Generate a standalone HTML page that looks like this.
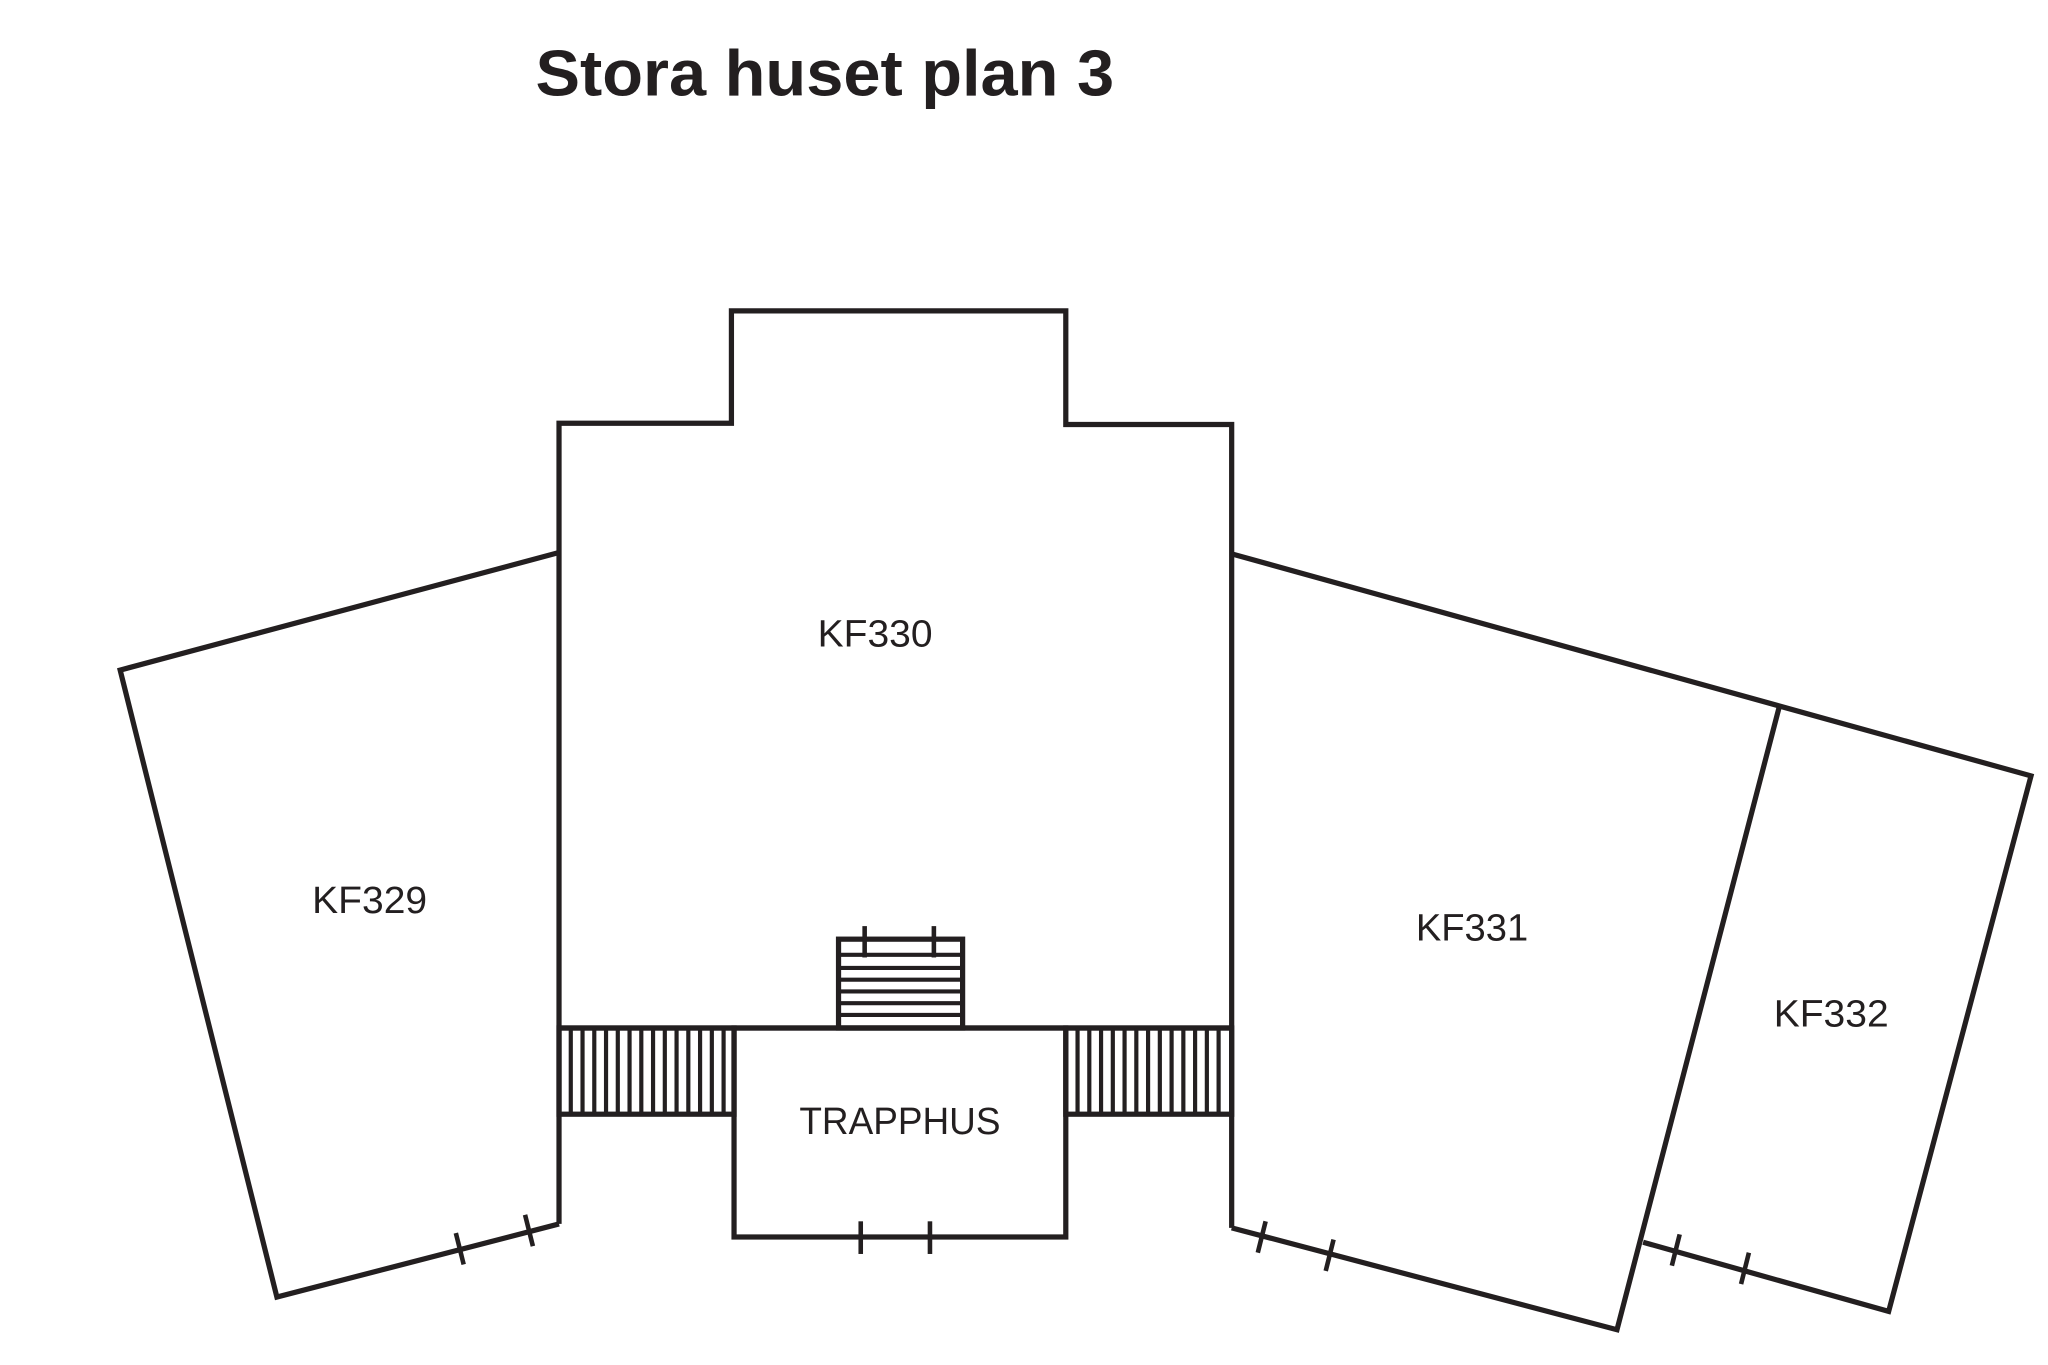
<!DOCTYPE html>
<html><head><meta charset="utf-8"><style>html,body{margin:0;padding:0;background:#fff}svg{display:block}</style></head>
<body>
<svg width="2048" height="1365" viewBox="0 0 1568 1045" preserveAspectRatio="none" xmlns="http://www.w3.org/2000/svg">
<rect width="1568" height="1045" fill="#fff"/>
<text x="410" y="73" font-family="Liberation Sans, sans-serif" font-weight="bold" font-size="50" textLength="443" lengthAdjust="spacingAndGlyphs" fill="#231f20">Stora huset plan 3</text>
<g fill="none" stroke="#231f20" stroke-width="4" stroke-linejoin="miter">
<polyline points="428,937 428,324 560,324 560,238 816,238 816,325 943,325 943,940"/>
<line x1="428" y1="787" x2="943" y2="787"/>
<polyline points="428,423 92,513 212,993 428,937"/>
<polyline points="943,424 1555,594 1446,1004 1258,951"/>
<polyline points="943,940 1238,1018 1362,542"/>
<rect x="562" y="787" width="254" height="160"/>
<rect x="428" y="787" width="134" height="66"/>
<rect x="816" y="787" width="127" height="66"/>
<rect x="642" y="719" width="95" height="68"/>
</g>
<g stroke="#231f20" stroke-width="3.2">
<line x1="437" y1="787" x2="437" y2="853"/><line x1="446" y1="787" x2="446" y2="853"/><line x1="455" y1="787" x2="455" y2="853"/><line x1="464" y1="787" x2="464" y2="853"/><line x1="473" y1="787" x2="473" y2="853"/><line x1="482" y1="787" x2="482" y2="853"/><line x1="491" y1="787" x2="491" y2="853"/><line x1="500" y1="787" x2="500" y2="853"/><line x1="509" y1="787" x2="509" y2="853"/><line x1="518" y1="787" x2="518" y2="853"/><line x1="527" y1="787" x2="527" y2="853"/><line x1="536" y1="787" x2="536" y2="853"/><line x1="545" y1="787" x2="545" y2="853"/><line x1="554" y1="787" x2="554" y2="853"/>
<line x1="825" y1="787" x2="825" y2="853"/><line x1="834" y1="787" x2="834" y2="853"/><line x1="843" y1="787" x2="843" y2="853"/><line x1="852" y1="787" x2="852" y2="853"/><line x1="861" y1="787" x2="861" y2="853"/><line x1="870" y1="787" x2="870" y2="853"/><line x1="879" y1="787" x2="879" y2="853"/><line x1="888" y1="787" x2="888" y2="853"/><line x1="897" y1="787" x2="897" y2="853"/><line x1="906" y1="787" x2="906" y2="853"/><line x1="915" y1="787" x2="915" y2="853"/><line x1="924" y1="787" x2="924" y2="853"/><line x1="933" y1="787" x2="933" y2="853"/>
<line x1="642" y1="731" x2="737" y2="731"/><line x1="642" y1="741" x2="737" y2="741"/><line x1="642" y1="750" x2="737" y2="750"/><line x1="642" y1="759" x2="737" y2="759"/><line x1="642" y1="768" x2="737" y2="768"/><line x1="642" y1="777" x2="737" y2="777"/>
</g>
<g stroke="#231f20" stroke-width="3.5">
<line x1="662" y1="709" x2="662" y2="733"/><line x1="715" y1="709" x2="715" y2="733"/>
<line x1="659" y1="935" x2="659" y2="960"/><line x1="712" y1="935" x2="712" y2="960"/>
<line x1="349" y1="944" x2="355" y2="968"/><line x1="402" y1="930" x2="408" y2="954"/>
<line x1="969" y1="935" x2="963" y2="959"/><line x1="1021" y1="949" x2="1015" y2="973"/>
<line x1="1286" y1="945" x2="1280" y2="969"/><line x1="1339" y1="959" x2="1333" y2="983"/>
</g>
<g font-family="Liberation Sans, sans-serif" font-size="29" fill="#231f20" text-anchor="middle">
<text x="670" y="495" textLength="88" lengthAdjust="spacingAndGlyphs">KF330</text>
<text x="283" y="699" textLength="88" lengthAdjust="spacingAndGlyphs">KF329</text>
<text x="1127" y="720" textLength="86" lengthAdjust="spacingAndGlyphs">KF331</text>
<text x="1402" y="786" textLength="88" lengthAdjust="spacingAndGlyphs">KF332</text>
<text x="689" y="868" textLength="154" lengthAdjust="spacingAndGlyphs">TRAPPHUS</text>
</g>
</svg>
</body></html>
